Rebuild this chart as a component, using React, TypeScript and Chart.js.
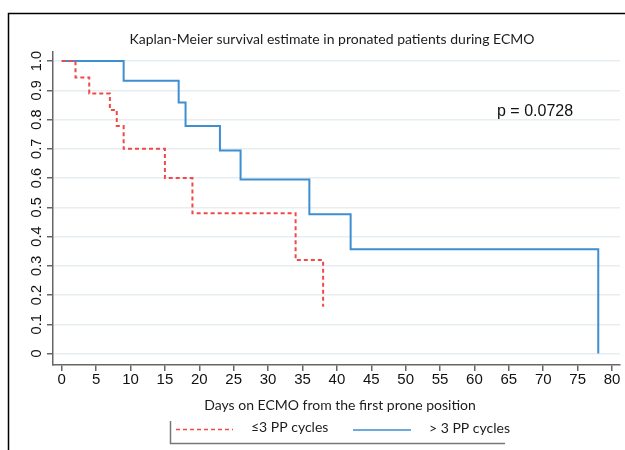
import React, { useEffect, useRef } from 'react';
import { Chart, registerables } from 'chart.js';

Chart.register(...registerables);

// ---- data ----
const redTimes = [0, 2, 4, 7, 8, 9, 15, 19, 34, 38];
const redSurvival = [1, 0.944, 0.889, 0.833, 0.778, 0.7, 0.6, 0.48, 0.32, 0.16];
const blueTimes = [0, 9, 17, 18, 23, 26, 36, 42, 78];
const blueSurvival = [1, 0.933, 0.858, 0.778, 0.694, 0.595, 0.476, 0.357, 0];

const xTickValues = [0, 5, 10, 15, 20, 25, 30, 35, 40, 45, 50, 55, 60, 65, 70, 75, 80];
const yTickValues = [0, 0.1, 0.2, 0.3, 0.4, 0.5, 0.6, 0.7, 0.8, 0.9, 1.0];

const titleText = 'Kaplan-Meier survival estimate in pronated patients during ECMO';
const xAxisTitle = 'Days on ECMO from the first prone position';
const pValueText = 'p = 0.0728';
const seriesLabels = ['\u22643 PP cycles', '> 3 PP cycles'];

const RED = '#ef4a48';
const BLUE = '#3d8fd2';

const overlay = {
  id: 'overlay',
  afterDraw(chart: any) {
    const ctx = chart.ctx as CanvasRenderingContext2D;
    ctx.save();
    // outer frame (top and left)
    ctx.strokeStyle = '#000';
    ctx.lineWidth = 1.5;
    ctx.beginPath();
    ctx.moveTo(625, 13.5);
    ctx.lineTo(8.5, 13.5);
    ctx.lineTo(8.5, 450);
    ctx.stroke();

    // title
    ctx.fillStyle = '#1c1c1c';
    ctx.font = '14px Lato';
    ctx.textAlign = 'center';
    ctx.textBaseline = 'middle';
    ctx.fillText(titleText, 332, 39);

    // p-value
    ctx.font = '16px "Liberation Sans"';
    ctx.textAlign = 'left';
    ctx.fillStyle = '#111';
    ctx.fillText(pValueText, 497, 112);

    // x axis title
    ctx.font = '14px Lato';
    ctx.textAlign = 'center';
    ctx.fillStyle = '#1c1c1c';
    ctx.fillText(xAxisTitle, 340, 405);

    // legend box (left + bottom border)
    ctx.strokeStyle = '#777';
    ctx.lineWidth = 1.5;
    ctx.beginPath();
    ctx.moveTo(170.5, 421);
    ctx.lineTo(170.5, 443.5);
    ctx.lineTo(505, 443.5);
    ctx.stroke();

    // red sample
    ctx.strokeStyle = RED;
    ctx.lineWidth = 1.5;
    ctx.setLineDash([4, 3]);
    ctx.beginPath();
    ctx.moveTo(176, 429.5);
    ctx.lineTo(233, 429.5);
    ctx.stroke();
    ctx.setLineDash([]);
    // blue sample
    ctx.strokeStyle = BLUE;
    ctx.beginPath();
    ctx.moveTo(353, 430);
    ctx.lineTo(411, 430);
    ctx.stroke();

    ctx.fillStyle = '#1c1c1c';
    ctx.font = '14px Lato';
    ctx.textAlign = 'left';
    ctx.fillText(seriesLabels[0], 251, 427);
    ctx.fillText(seriesLabels[1], 429, 428);
    ctx.restore();
  },
};

export default function App() {
  const ref = useRef<HTMLCanvasElement | null>(null);

  useEffect(() => {
    document.body.style.margin = '0';
    const canvas = ref.current;
    if (!canvas) return;
    const chart = new Chart(canvas, {
      type: 'line',
      data: {
        datasets: [
          {
            label: seriesLabels[0],
            data: redTimes.map((t, i) => ({ x: t, y: redSurvival[i] })),
            borderColor: RED,
            borderWidth: 2,
            borderDash: [4, 3],
            stepped: 'before',
            pointRadius: 0,
            fill: false,
          },
          {
            label: seriesLabels[1],
            data: blueTimes.map((t, i) => ({ x: t, y: blueSurvival[i] })),
            borderColor: BLUE,
            borderWidth: 2,
            stepped: 'before',
            pointRadius: 0,
            fill: false,
          },
        ],
      },
      options: {
        responsive: false,
        animation: false,
        devicePixelRatio: 1,
        layout: { padding: { top: 52, right: 5, left: 0, bottom: 0 } },
        plugins: {
          legend: { display: false },
          title: { display: false },
          tooltip: { enabled: false },
        },
        scales: {
          x: {
            type: 'linear',
            min: -1.27,
            max: 81.16,
            afterBuildTicks: (scale: any) => {
              scale.ticks = xTickValues.map((v) => ({ value: v }));
            },
            afterFit: (scale: any) => {
              scale.height = 85;
            },
            ticks: {
              autoSkip: false,
              maxRotation: 0,
              minRotation: 0,
              padding: 0,
              color: '#111',
              font: { family: '"Liberation Sans", Arial', size: 15 },
              callback: (v: any) => String(v),
            },
            grid: {
              drawOnChartArea: false,
              drawTicks: true,
              tickLength: 6,
              tickColor: '#666',
              lineWidth: 1.5,
            },
            border: { color: '#666', width: 1.5 },
          },
          y: {
            type: 'linear',
            min: -0.039,
            max: 1.031,
            afterBuildTicks: (scale: any) => {
              scale.ticks = yTickValues.map((v) => ({ value: v }));
            },
            afterFit: (scale: any) => {
              scale.width = 53;
            },
            ticks: {
              autoSkip: false,
              minRotation: 90,
              maxRotation: 90,
              crossAlign: 'center',
              padding: 0,
              color: '#111',
              font: { family: '"Liberation Sans", Arial', size: 14.5 },
              callback: (v: any) => (v === 0 ? '0' : Number(v).toFixed(1)),
            },
            grid: {
              drawOnChartArea: true,
              color: '#e6eef2',
              lineWidth: 1.5,
              tickLength: 6,
              tickColor: '#666',
            },
            border: { color: '#666', width: 1.5 },
          },
        },
      },
      plugins: [overlay],
    });
    return () => chart.destroy();
  }, []);

  return <canvas ref={ref} width={625} height={450} style={{ display: 'block' }} />;
}
